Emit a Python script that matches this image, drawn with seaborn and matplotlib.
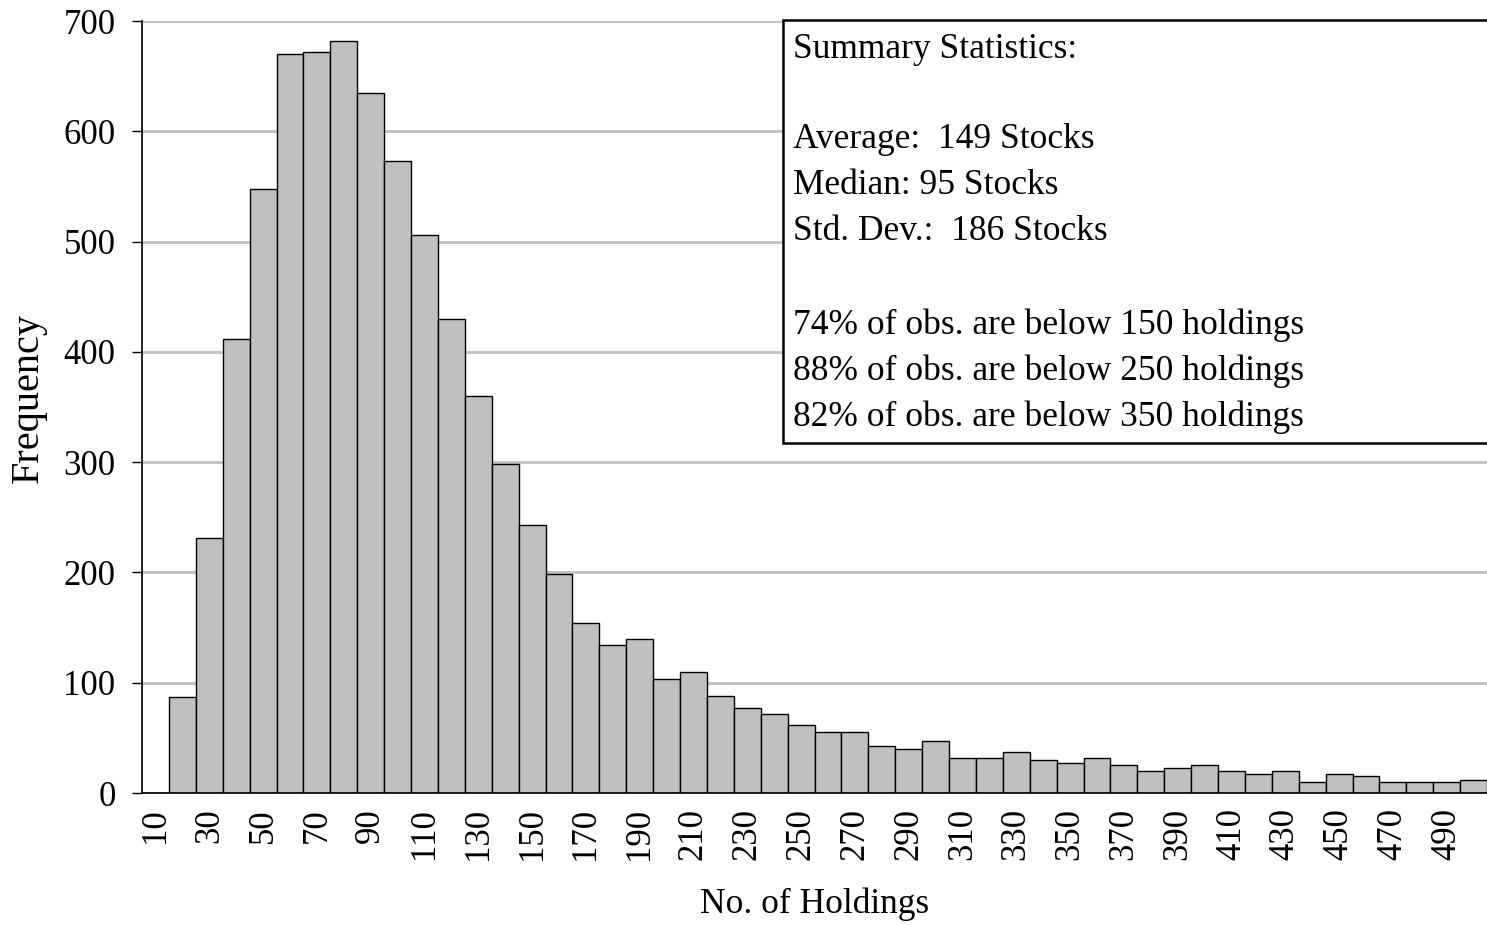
import matplotlib
matplotlib.use("Agg")
import matplotlib.pyplot as plt
from matplotlib.patches import Rectangle
import seaborn as sns
import pandas as pd

holdings = list(range(10, 510, 10))
frequency = [0, 87, 231, 412, 548, 670, 672, 682, 635, 573,
             506, 430, 360, 298, 243, 199, 154, 134, 140, 103,
             110, 88, 77, 72, 62, 55, 55, 43, 40, 47,
             32, 32, 37, 30, 27, 32, 25, 20, 23, 25,
             20, 17, 20, 10, 17, 15, 10, 10, 10, 12]
yticks = [0, 100, 200, 300, 400, 500, 600, 700]
summary_lines = ["Summary Statistics:",
                 "Average:  149 Stocks",
                 "Median: 95 Stocks",
                 "Std. Dev.:  186 Stocks",
                 "74% of obs. are below 150 holdings",
                 "88% of obs. are below 250 holdings",
                 "82% of obs. are below 350 holdings"]
line_y_px = [50, 140, 186, 232, 325, 371, 417]

df = pd.DataFrame({"holdings": holdings, "frequency": frequency})

sns.set_theme(style="white")
plt.rcParams["font.family"] = ["Liberation Serif", "DejaVu Serif"]

W, H = 1487, 925
fig = plt.figure(figsize=(W / 100, H / 100), dpi=100)
ax = fig.add_axes([142 / W, 1 - 793 / H, (1487 - 142) / W, (793 - 21) / H])

sns.barplot(data=df, x="holdings", y="frequency", color="#C0C0C0",
            edgecolor="black", linewidth=1.0, width=1.0, saturation=1,
            ax=ax, zorder=2)

ax.set_xlim(-0.5, len(holdings) - 0.5)
ax.set_ylim(0, 700)
ax.set_yticks(yticks)
ax.set_yticklabels([str(v) for v in yticks])
pos = [i for i, h in enumerate(holdings) if (h - 10) % 20 == 0]
ax.set_xticks(pos)
ax.set_xticklabels([str(holdings[i]) for i in pos], rotation=90)

ax.yaxis.grid(True, color="#C0C0C0", linewidth=2)
ax.xaxis.grid(False)
ax.set_axisbelow(True)

for s in ["top", "right"]:
    ax.spines[s].set_visible(False)
for s in ["left", "bottom"]:
    ax.spines[s].set_color("black")
    ax.spines[s].set_linewidth(1.2)

ax.tick_params(axis="y", which="both", left=True, length=7, width=1,
               color="black", pad=12, labelsize=25, labelcolor="black")
ax.tick_params(axis="x", which="both", bottom=False, length=0, pad=11,
               labelsize=25, labelcolor="black")

ax.set_xlabel("No. of Holdings", fontsize=25.5, color="black")
ax.set_ylabel("Frequency", fontsize=29, color="black")
ax.xaxis.set_label_coords(0.5, -0.123)
ax.yaxis.set_label_coords(-0.071, 0.512)

# summary box
rect = Rectangle((783 / W, 1 - 443 / H), 0.6, (443 - 20) / H,
                 transform=fig.transFigure, facecolor="white",
                 edgecolor="black", linewidth=1.8, zorder=5, clip_on=False)
fig.patches.append(rect)
for txt, ypx in zip(summary_lines, line_y_px):
    fig.text(793 / W, 1 - ypx / H, txt, fontsize=25.5, color="black",
             ha="left", va="center", zorder=6)

fig.savefig("out.png", dpi=100)
